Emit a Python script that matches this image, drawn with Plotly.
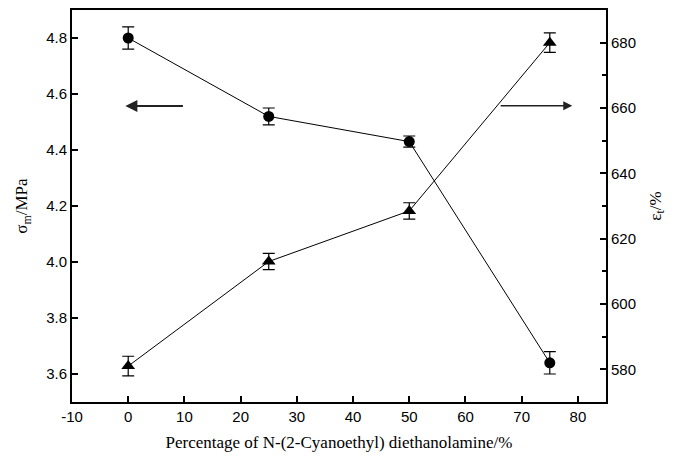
import plotly.graph_objects as go

# Data
x_pct = [0, 25, 50, 75]
sigma_m = [4.80, 4.52, 4.43, 3.64]          # MPa (left axis)
sigma_err = [0.04, 0.03, 0.02, 0.04]
eps_t = [581, 613, 628.5, 680]              # % (right axis)
eps_err = [3, 2.5, 2.5, 3]

x_ticks = [-10, 0, 10, 20, 30, 40, 50, 60, 70, 80]
x_ticklabels = ["-10", "0", "10", "20", "30", "40", "50", "60", "70", "80"]

x_title = "Percentage of N-(2-Cyanoethyl) diethanolamine/%"
y1_title = "σ<sub>m</sub>/MPa"
y2_title = "ε<sub>t</sub>/%"

fig = go.Figure()
fig.add_trace(go.Scatter(
    x=x_pct, y=sigma_m, mode="lines+markers",
    line=dict(color="black", width=1),
    marker=dict(symbol="circle", size=11, color="black"),
    error_y=dict(type="data", array=sigma_err, color="black", thickness=1.2, width=6),
    showlegend=False, yaxis="y"))
fig.add_trace(go.Scatter(
    x=x_pct, y=eps_t, mode="lines+markers",
    line=dict(color="black", width=1),
    marker=dict(symbol="triangle-up", size=12, color="black"),
    error_y=dict(type="data", array=eps_err, color="black", thickness=1.2, width=6),
    showlegend=False, yaxis="y2"))

tickfont = dict(family="Liberation Sans, Arial", size=15, color="black")
titlefont = dict(family="Liberation Serif, Times New Roman", size=17, color="black")

fig.update_layout(
    width=681, height=459,
    margin=dict(l=72, r=75, t=8, b=57),
    plot_bgcolor="white", paper_bgcolor="white",
    xaxis=dict(range=[-10, 85], tickvals=x_ticks, ticktext=x_ticklabels, showline=True, linecolor="black",
               linewidth=2, mirror=True, ticks="inside", ticklen=6, tickwidth=1.5, tickcolor="black",
               showgrid=False, zeroline=False, tickfont=tickfont,
               title=dict(text=x_title, font=titlefont, standoff=12)),
    yaxis=dict(range=[3.5, 4.9], dtick=0.2, tick0=3.6, tickformat=".1f", showline=True, linecolor="black",
               linewidth=2, ticks="inside", ticklen=6, tickwidth=1.5, tickcolor="black",
               showgrid=False, zeroline=False, tickfont=tickfont,
               title=dict(text=y1_title, font=titlefont, standoff=14)),
    yaxis2=dict(range=[570, 690], dtick=20, tick0=580, overlaying="y", side="right", showline=True,
                linecolor="black", linewidth=2, ticks="inside", ticklen=6, tickwidth=1.5, tickcolor="black",
                minor=dict(dtick=10, ticks="inside", ticklen=4, tickcolor="black", tickwidth=1.5),
                showgrid=False, zeroline=False, tickfont=tickfont,
                title=dict(text=y2_title, font=titlefont, standoff=14)),
    annotations=[
        dict(x=-0.5, y=4.557, ax=10, ay=4.557, xref="x", yref="y", axref="x", ayref="y",
             showarrow=True, arrowhead=2, arrowsize=1.2, arrowwidth=2, arrowcolor="#222", text=""),
        dict(x=79, y=4.558, ax=66, ay=4.558, xref="x", yref="y", axref="x", ayref="y",
             showarrow=True, arrowhead=2, arrowsize=1.2, arrowwidth=1.5, arrowcolor="#222", text=""),
    ],
)

fig.write_html("out.html")
